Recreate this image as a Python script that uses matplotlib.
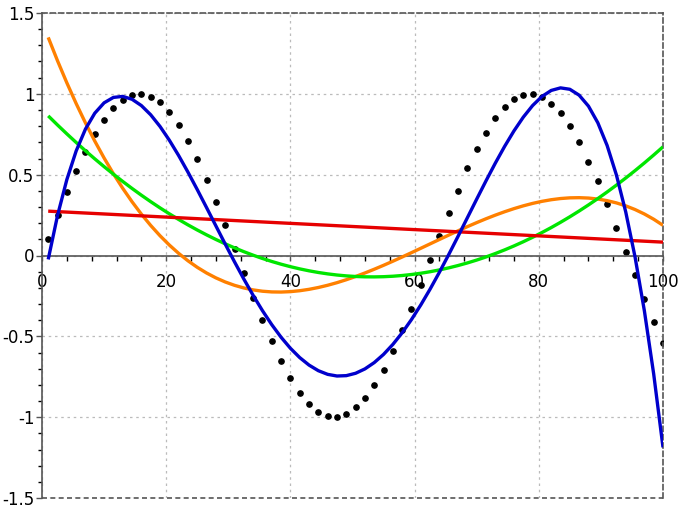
import numpy as np
import matplotlib.pyplot as plt
from matplotlib.ticker import MultipleLocator, FuncFormatter

# sample points (black dots)
x_pts = [1, 2.5, 4, 5.5, 7, 8.5, 10, 11.5, 13, 14.5, 16, 17.5, 19, 20.5, 22,
         23.5, 25, 26.5, 28, 29.5, 31, 32.5, 34, 35.5, 37, 38.5, 40, 41.5, 43,
         44.5, 46, 47.5, 49, 50.5, 52, 53.5, 55, 56.5, 58, 59.5, 61, 62.5, 64,
         65.5, 67, 68.5, 70, 71.5, 73, 74.5, 76, 77.5, 79, 80.5, 82, 83.5, 85,
         86.5, 88, 89.5, 91, 92.5, 94, 95.5, 97, 98.5, 100]
y_pts = [0.10, 0.25, 0.39, 0.52, 0.64, 0.75, 0.84, 0.91, 0.96, 0.99, 1.00,
         0.98, 0.95, 0.89, 0.81, 0.71, 0.60, 0.47, 0.33, 0.19, 0.04, -0.11,
         -0.26, -0.40, -0.53, -0.65, -0.76, -0.85, -0.92, -0.97, -0.99, -1.00,
         -0.98, -0.94, -0.88, -0.80, -0.71, -0.59, -0.46, -0.33, -0.18, -0.03,
         0.12, 0.26, 0.40, 0.54, 0.66, 0.76, 0.85, 0.92, 0.97, 0.99, 1.00,
         0.98, 0.94, 0.88, 0.80, 0.70, 0.58, 0.46, 0.32, 0.17, 0.02, -0.12,
         -0.27, -0.41, -0.54]

# polynomial fit degrees and their colours
degrees = [3, 2, 1, 4]
colors = ["#ff8000", "#00e600", "#e60000", "#0000cc"]

x = np.array(x_pts)
y = np.array(y_pts)

fig = plt.figure(figsize=(6.83, 5.12), dpi=100)
ax = fig.add_axes([42/683, 14/512, 621/683, 485/512])

ax.plot(x, y, "o", color="black", markersize=3.8, zorder=2)
for d, c in zip(degrees, colors):
    p = np.polyfit(x, y, d)
    ax.plot(x, np.polyval(p, x), color=c, lw=2.4, zorder=3,
            solid_capstyle="butt")

ax.set_xlim(0, 100)
ax.set_ylim(-1.5, 1.5)

ax.xaxis.set_major_locator(MultipleLocator(20))
ax.xaxis.set_minor_locator(MultipleLocator(4))
ax.yaxis.set_major_locator(MultipleLocator(0.5))
ax.yaxis.set_minor_locator(MultipleLocator(0.1))
fmt = FuncFormatter(lambda v, p: f"{v:g}")
ax.xaxis.set_major_formatter(fmt)
ax.yaxis.set_major_formatter(fmt)

ax.grid(True, which="major", ls=(0, (2, 3)), color="#bbbbbb", lw=0.9)

spine_col = "#555555"
ax.spines["bottom"].set_position(("data", 0))
for s in ax.spines.values():
    s.set_color(spine_col)
    s.set_linewidth(1.2)
ax.spines["top"].set_linestyle((0, (3, 2)))
ax.spines["right"].set_linestyle((0, (3, 2)))
ax.axhline(-1.5, color=spine_col, lw=1.2, ls=(0, (3, 2)), clip_on=False)

ax.tick_params(axis="both", colors=spine_col, labelcolor="black",
               labelsize=12)
ax.tick_params(axis="x", which="both", direction="out", length=3.5, width=1)
ax.tick_params(axis="x", which="major", pad=9)
ax.tick_params(axis="y", which="major", length=4.5, width=1, pad=1)
ax.tick_params(axis="y", which="minor", length=3, width=1)

fig.savefig("out.png", dpi=100)
